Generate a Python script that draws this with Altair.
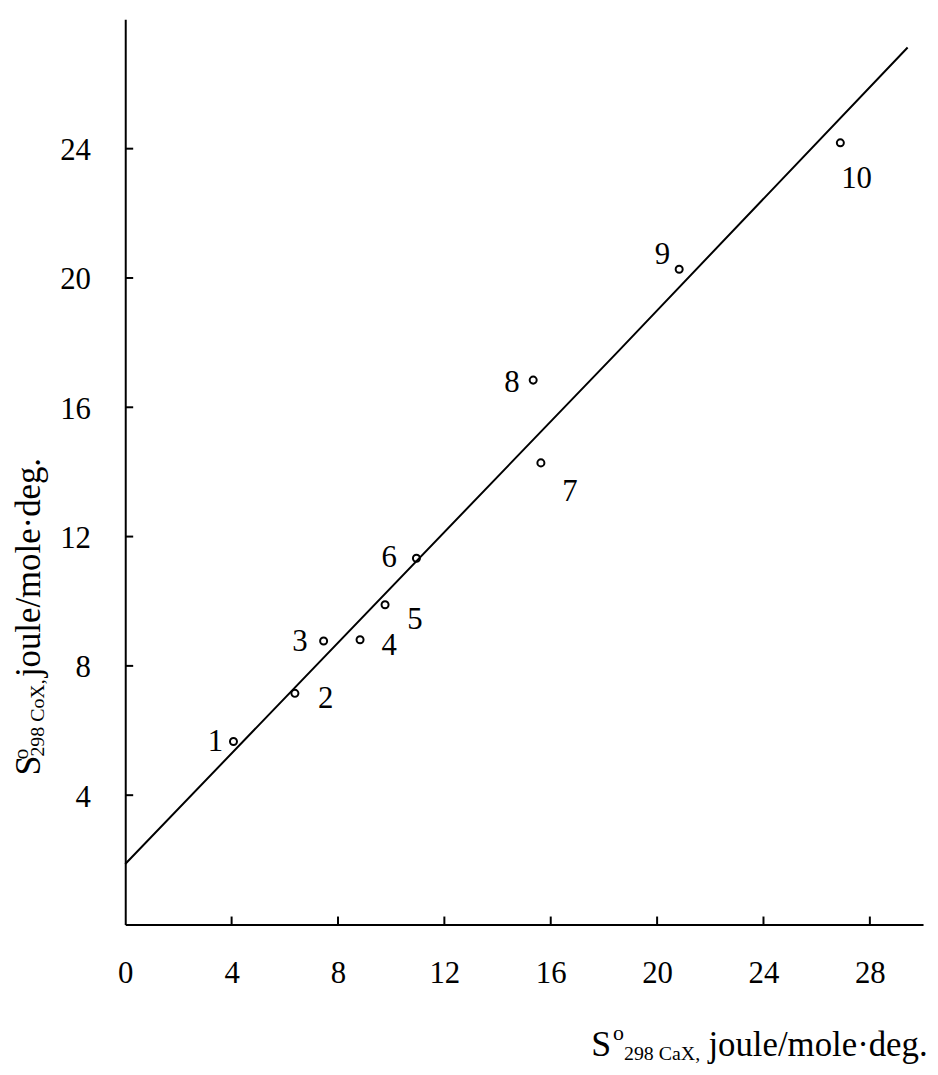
import altair as alt
import pandas as pd

# ---- data ----
point_ids = ["1", "2", "3", "4", "5", "6", "7", "8", "9", "10"]
s_cax = [4.07, 6.38, 7.46, 8.83, 9.77, 10.95, 15.63, 15.34, 20.83, 26.89]
s_cox = [5.66, 7.15, 8.77, 8.81, 9.89, 11.33, 14.28, 16.84, 20.27, 24.18]
label_x = [3.39, 7.54, 6.57, 9.93, 10.89, 9.93, 16.72, 14.54, 20.20, 27.50]
label_y = [5.64, 6.97, 8.74, 8.61, 9.43, 11.33, 13.37, 16.75, 20.70, 23.05]
line_x = [0.0, 18.5, 29.42]
line_y = [1.87, 17.7, 27.13]
x_tick_labels = [0, 4, 8, 12, 16, 20, 24, 28]
x_tick_marks = [4, 8, 12, 16, 20, 24, 28]
y_tick_values = [4, 8, 12, 16, 20, 24]

FONT = "Liberation Serif"

pts = pd.DataFrame({"x": s_cax, "y": s_cox})
labs = pd.DataFrame({"x": label_x, "y": label_y, "t": point_ids})
fit = pd.DataFrame({"x": line_x, "y": line_y})
xt = pd.DataFrame({"x": x_tick_marks, "y": [0] * len(x_tick_marks)})
yt = pd.DataFrame({"x": [0] * len(y_tick_values), "y": y_tick_values})

xs = alt.Scale(domain=[0, 30], nice=False, zero=False)
ys = alt.Scale(domain=[0, 28], nice=False, zero=False)
xaxis = alt.Axis(values=x_tick_labels, ticks=False, tickSize=0, grid=False,
                 domain=True, domainWidth=2, domainColor="black",
                 labelFont=FONT, labelFontSize=31, labelColor="black",
                 labelPadding=34, labelFlush=False, labelOverlap=False, title=None)
yaxis = alt.Axis(values=y_tick_values, ticks=False, tickSize=0, grid=False,
                 domain=True, domainWidth=2, domainColor="black",
                 labelFont=FONT, labelFontSize=31, labelColor="black",
                 labelPadding=35, labelOffset=2, labelFlush=False,
                 labelOverlap=False, title=None)
X = alt.X("x:Q", scale=xs, axis=xaxis)
Y = alt.Y("y:Q", scale=ys, axis=yaxis)

line = alt.Chart(fit).mark_line(color="black", strokeWidth=2).encode(x=X, y=Y)
points = alt.Chart(pts).mark_point(shape="circle", filled=False, size=50,
                                   strokeWidth=2, color="black", opacity=1).encode(x=X, y=Y)
labels = alt.Chart(labs).mark_text(font=FONT, fontSize=31, color="black",
                                   align="center", baseline="middle").encode(x=X, y=Y, text="t:N")
xticks = alt.Chart(xt).mark_tick(orient="vertical", size=8, thickness=2,
                                 color="black", yOffset=-4, opacity=1).encode(x=X, y=Y)
yticks = alt.Chart(yt).mark_tick(orient="horizontal", size=8, thickness=2,
                                 color="black", xOffset=4, opacity=1).encode(x=X, y=Y)


def txt(s, px, py, size, angle=0):
    m = dict(font=FONT, fontSize=size, color="black", align="left",
             baseline="alphabetic")
    if angle:
        m["angle"] = angle
    return alt.Chart(pd.DataFrame({"t": [s]})).mark_text(**m).encode(
        text="t:N", x=alt.value(px), y=alt.value(py))


# axis titles (plot-area pixel positions)
titles = [
    txt("S", 469, 1043, 36),
    txt("o", 491, 1027, 22),
    txt("298 CaX,", 502, 1047, 20),
    txt("joule/mole·deg.", 587, 1043, 35),
    txt("S", -86, 761, 36, 270),
    txt("o", -98, 745, 22, 270),
    txt("298 CoX,", -82, 742, 20, 270),
    txt("joule/mole·deg.", -86, 662, 35, 270),
]

chart = alt.layer(line, points, labels, xticks, yticks, *titles).properties(
    width=803, height=911,
    autosize=alt.AutoSizeParams(type="none"),
    padding={"left": 118, "top": 8, "right": 7, "bottom": 140},
    background="white",
).configure_view(stroke=None)

chart.save("out.html", embed_options={"renderer": "svg", "actions": False})
